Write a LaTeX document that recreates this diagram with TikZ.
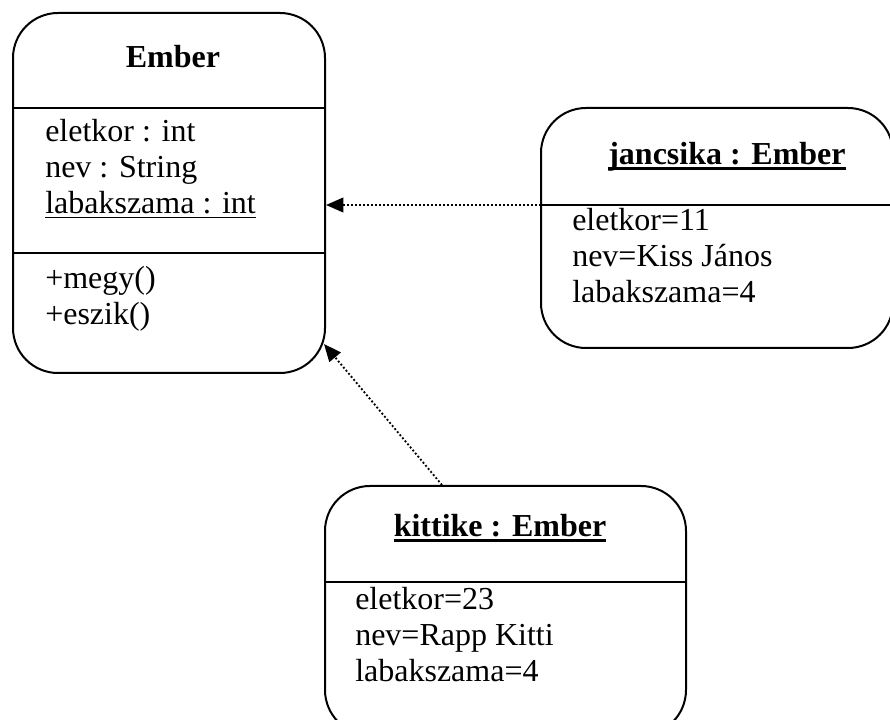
\documentclass[tikz,border=0pt]{standalone}
\usepackage{fontspec}
\setmainfont{Liberation Serif}
\usetikzlibrary{arrows.meta}
\newlength{\ulwd}
% underline with fixed depth: #1 thickness, #2 text
\newcommand{\ulbox}[2]{\settowidth{\ulwd}{#2}\rlap{\rule[-3.5pt]{\ulwd}{#1}}#2}

\begin{document}
\begin{tikzpicture}[x=0.75pt, y=-0.75pt,
  umlbox/.style={draw, line width=1.5pt, rounded corners=33.75pt, inner sep=0pt},
  divline/.style={line width=1.5pt},
  txt/.style={anchor=north west, inner sep=0pt, align=left,
    font=\fontsize{24}{27}\selectfont},
  ttl/.style={anchor=base, inner sep=0pt, font=\fontsize{24}{27}\selectfont\bfseries},
  dep/.style={-{Triangle[length=13pt, width=11pt]}, line width=1.4pt,
    dash pattern=on 1.4pt off 1.6pt},
]
\clip (0,0) rectangle (890,720);

% Class box
\node[umlbox, minimum width=234pt, minimum height=270pt] (ember) at (169,193) {};
\coordinate (ediv1) at (13,108);
\coordinate (ediv2) at (13,253);
\draw[divline] (ediv1) -- (ediv1 -| ember.east);
\draw[divline] (ediv2) -- (ediv2 -| ember.east);
\node[ttl] (etitle) at (173,68) {Ember};
\node[txt] (eattr) at (45,119) {eletkor : int\\nev : String\\\ulbox{1.2pt}{labakszama : int}};
\node[txt] (eops) at (45,266) {+megy()\\+eszik()};

% Object boxes
\node[umlbox, minimum width=264pt, minimum height=180pt] (janc) at (717,228) {};
\coordinate (jdiv) at (541,205);
\draw[divline] (jdiv) -- (jdiv -| janc.east);
\node[ttl] (jtitle) at (727,165) {\ulbox{2.2pt}{jancsika : Ember}};
\node[txt] (jattr) at (572,208) {eletkor=11\\nev=Kiss János\\labakszama=4};

\node[umlbox, minimum width=270.75pt, minimum height=186.75pt] (kitt) at (505.5,610.5) {};
\coordinate (kdiv) at (325,582);
\draw[divline] (kdiv) -- (kdiv -| kitt.east);
\node[ttl] (ktitle) at (500,537) {\ulbox{2.2pt}{kittike : Ember}};
\node[txt] (kattr) at (355,587) {eletkor=23\\nev=Rapp Kitti\\labakszama=4};

% Instance-of dependencies
\draw[dep] (jdiv) -- (jdiv -| ember.east);
\draw[dep] ([xshift=88.5pt]kitt.north west) -- ([xshift=-1.5pt, yshift=22.5pt]ember.south east);
\end{tikzpicture}
\end{document}
